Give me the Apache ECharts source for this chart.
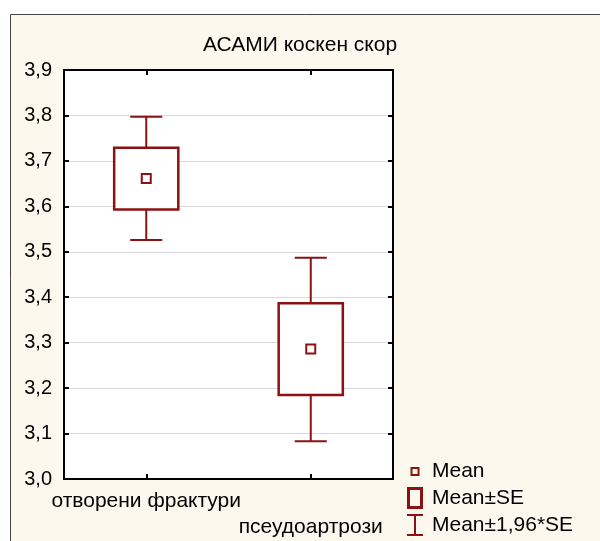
<!DOCTYPE html>
<html>
<head>
<meta charset="UTF-8">
<title>АСАМИ коскен скор</title>
<script type="text/javascript" src="https://cdn.jsdelivr.net/npm/echarts@6/dist/echarts.min.js"></script>
<style>
    *{margin:0;padding:0}
    html,body{width:100%;height:100%;background:#fff}
    #main{width:600px;height:541px}
</style>
</head>
<body>
<div id="main"></div>
<script type="text/javascript">
    // groups
    var categories = ['отворени фрактури', 'псеудоартрози'];
    // mean per group
    var means = [3.661, 3.286];
    // mean - SE / mean + SE
    var seLow = [3.593, 3.185];
    var seHigh = [3.729, 3.387];
    // mean -/+ 1.96*SE
    var ciLow = [3.526, 3.083];
    var ciHigh = [3.797, 3.487];

    var red = '#8b1212';

    var boxData = categories.map(function (c, i) { return [i, seLow[i], seHigh[i]]; });
    var whiskerData = categories.map(function (c, i) { return [i, ciLow[i], ciHigh[i]]; });
    var meanData = categories.map(function (c, i) { return [i, means[i]]; });

    var font = 'Liberation Sans, Arial, sans-serif';

    var option = {
        animation: false,
        backgroundColor: 'transparent',
        graphic: [{
            type: 'rect',
            z: -10,
            silent: true,
            shape: {x: 10.5, y: 14.5, width: 620, height: 560},
            style: {fill: '#fdf8ed', stroke: '#444', lineWidth: 1}
        }],
        title: {
            text: 'АСАМИ коскен скор',
            left: 198,
            top: 30,
            textStyle: {fontFamily: font, fontSize: 21, fontWeight: 'normal', color: '#000'}
        },
        grid: {
            left: 64, top: 70, width: 329, height: 409,
            show: true,
            backgroundColor: '#fff',
            borderColor: '#000',
            borderWidth: 2
        },
        legend: {
            orient: 'vertical',
            left: 407,
            top: 460,
            padding: 0,
            itemWidth: 16,
            itemHeight: 22,
            itemGap: 5,
            selectedMode: false,
            textStyle: {fontFamily: font, fontSize: 21, color: '#000', padding: [0, 0, 0, 4]},
            data: [
                {name: 'Mean', icon: 'path://M0,0 M16,22 M3.5,7 H12.5 V16 H3.5 Z M5.5,9 V14 H10.5 V9 Z',
                    itemStyle: {color: red, borderWidth: 0}},
                {name: 'Mean±SE', icon: 'path://M0,0 H16 V22 H0 Z M3,3 V19 H13 V3 Z',
                    itemStyle: {color: red, borderWidth: 0}},
                {name: 'Mean±1,96*SE', icon: 'path://M0,0 H16 V2 H9 V20 H16 V22 H0 V20 H7 V2 H0 Z',
                    itemStyle: {color: red, borderWidth: 0}}
            ]
        },
        xAxis: [{
            type: 'category',
            data: categories,
            position: 'bottom',
            axisLine: {show: true, lineStyle: {color: '#000', width: 2}},
            axisTick: {show: true, inside: true, length: 5, alignWithLabel: true, lineStyle: {color: '#000', width: 2}},
            axisLabel: {
                interval: 0,
                margin: 9,
                fontFamily: font,
                fontSize: 21,
                color: '#000',
                lineHeight: 26,
                formatter: function (v, i) { return i === 1 ? '\n' + v : v; }
            },
            splitLine: {show: false}
        }, {
            type: 'category',
            data: categories,
            position: 'top',
            axisLine: {show: true, lineStyle: {color: '#000', width: 2}},
            axisTick: {show: true, inside: true, length: 5, alignWithLabel: true, lineStyle: {color: '#000', width: 2}},
            axisLabel: {show: false}
        }],
        yAxis: [{
            type: 'value',
            min: 3.0,
            max: 3.9,
            interval: 0.1,
            position: 'left',
            axisLine: {show: true, lineStyle: {color: '#000', width: 2}},
            axisTick: {show: true, inside: true, length: 5, lineStyle: {color: '#000', width: 2}},
            axisLabel: {
                margin: 12,
                fontFamily: font,
                fontSize: 20,
                color: '#000',
                formatter: function (v) { return v.toFixed(1).replace('.', ','); }
            },
            splitLine: {show: true, lineStyle: {color: '#dadada', width: 1}}
        }, {
            type: 'value',
            min: 3.0,
            max: 3.9,
            interval: 0.1,
            position: 'right',
            axisLine: {show: true, lineStyle: {color: '#000', width: 2}},
            axisTick: {show: true, inside: true, length: 5, lineStyle: {color: '#000', width: 2}},
            axisLabel: {show: false},
            splitLine: {show: false}
        }],
        series: [
            {
                name: 'Mean±1,96*SE',
                type: 'custom',
                itemStyle: {color: red},
                data: whiskerData,
                renderItem: function (params, api) {
                    var x = api.value(0);
                    var lo = api.coord([x, api.value(1)]);
                    var hi = api.coord([x, api.value(2)]);
                    var cap = api.size([1, 0])[0] * 0.195;
                    var st = {stroke: red, lineWidth: 2};
                    return {
                        type: 'group',
                        children: [
                            {type: 'line', shape: {x1: lo[0], y1: lo[1], x2: hi[0], y2: hi[1]}, style: st},
                            {type: 'line', shape: {x1: lo[0] - cap / 2, y1: lo[1], x2: lo[0] + cap / 2, y2: lo[1]}, style: st},
                            {type: 'line', shape: {x1: hi[0] - cap / 2, y1: hi[1], x2: hi[0] + cap / 2, y2: hi[1]}, style: st}
                        ]
                    };
                }
            },
            {
                name: 'Mean±SE',
                type: 'custom',
                itemStyle: {color: red},
                data: boxData,
                renderItem: function (params, api) {
                    var x = api.value(0);
                    var lo = api.coord([x, api.value(1)]);
                    var hi = api.coord([x, api.value(2)]);
                    var w = api.size([1, 0])[0] * 0.39;
                    return {
                        type: 'rect',
                        shape: {x: lo[0] - w / 2, y: hi[1], width: w, height: lo[1] - hi[1]},
                        style: {fill: '#fff', stroke: red, lineWidth: 2.5}
                    };
                }
            },
            {
                name: 'Mean',
                type: 'scatter',
                symbol: 'rect',
                symbolSize: 9,
                itemStyle: {color: '#fff', borderColor: red, borderWidth: 2, opacity: 1},
                data: meanData
            }
        ]
    };

    var myChart = echarts.init(document.getElementById('main'));
    myChart.setOption(option);
</script>
</body>
</html>
